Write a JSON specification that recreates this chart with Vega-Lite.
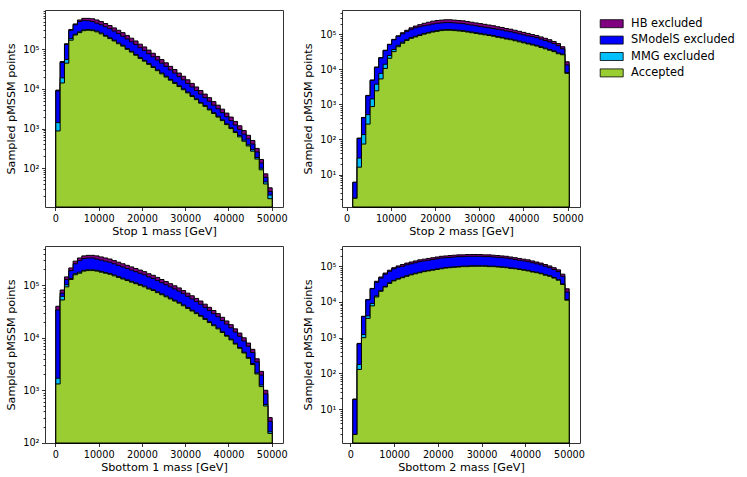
{
  "$schema": "https://vega.github.io/schema/vega-lite/v6.json",
  "datasets": {
    "stop1": [
      {"lo":100,"hi":1100,"accepted":871,"mmg":1413,"smodels":8913,"hb":9333},
      {"lo":1100,"hi":2100,"accepted":14130,"mmg":19050,"smodels":46770,"hb":48980},
      {"lo":2100,"hi":3100,"accepted":44670,"mmg":54950,"smodels":131800,"hb":138000},
      {"lo":3100,"hi":4100,"accepted":169800,"mmg":186200,"smodels":302000,"hb":316200},
      {"lo":4100,"hi":5100,"accepted":229100,"mmg":239900,"smodels":416900,"hb":436500},
      {"lo":5100,"hi":6100,"accepted":263000,"mmg":275400,"smodels":501200,"hb":549500},
      {"lo":6100,"hi":7100,"accepted":295100,"mmg":309000,"smodels":537000,"hb":602600},
      {"lo":7100,"hi":8100,"accepted":302000,"mmg":316200,"smodels":524800,"hb":602600},
      {"lo":8100,"hi":9100,"accepted":295100,"mmg":309000,"smodels":501200,"hb":588800},
      {"lo":9100,"hi":10100,"accepted":275400,"mmg":288400,"smodels":457100,"hb":549500},
      {"lo":10100,"hi":11100,"accepted":245500,"mmg":257000,"smodels":416900,"hb":501200},
      {"lo":11100,"hi":12100,"accepted":213800,"mmg":223900,"smodels":371500,"hb":446700},
      {"lo":12100,"hi":13100,"accepted":186200,"mmg":195000,"smodels":331100,"hb":398100},
      {"lo":13100,"hi":14100,"accepted":162200,"mmg":169800,"smodels":288400,"hb":346700},
      {"lo":14100,"hi":15100,"accepted":138000,"mmg":144500,"smodels":251200,"hb":302000},
      {"lo":15100,"hi":16100,"accepted":120200,"mmg":125900,"smodels":213800,"hb":263000},
      {"lo":16100,"hi":17100,"accepted":100000,"mmg":104700,"smodels":182000,"hb":223900},
      {"lo":17100,"hi":18100,"accepted":85110,"mmg":89130,"smodels":154900,"hb":190500},
      {"lo":18100,"hi":19100,"accepted":70790,"mmg":74130,"smodels":131800,"hb":162200},
      {"lo":19100,"hi":20100,"accepted":58880,"mmg":61660,"smodels":109600,"hb":134900},
      {"lo":20100,"hi":21100,"accepted":50120,"mmg":52480,"smodels":93330,"hb":114800},
      {"lo":21100,"hi":22100,"accepted":41690,"mmg":43650,"smodels":77620,"hb":95500},
      {"lo":22100,"hi":23100,"accepted":34670,"mmg":36310,"smodels":64570,"hb":79430},
      {"lo":23100,"hi":24100,"accepted":28840,"mmg":30200,"smodels":53700,"hb":66070},
      {"lo":24100,"hi":25100,"accepted":23990,"mmg":25120,"smodels":44670,"hb":54950},
      {"lo":25100,"hi":26100,"accepted":19950,"mmg":20890,"smodels":37150,"hb":45710},
      {"lo":26100,"hi":27100,"accepted":16600,"mmg":17380,"smodels":30200,"hb":37150},
      {"lo":27100,"hi":28100,"accepted":13800,"mmg":14450,"smodels":25120,"hb":30900},
      {"lo":28100,"hi":29100,"accepted":11480,"mmg":12020,"smodels":20420,"hb":25120},
      {"lo":29100,"hi":30100,"accepted":9550,"mmg":10000,"smodels":16980,"hb":20890},
      {"lo":30100,"hi":31100,"accepted":7943,"mmg":8318,"smodels":13800,"hb":16980},
      {"lo":31100,"hi":32100,"accepted":6457,"mmg":6761,"smodels":11220,"hb":13800},
      {"lo":32100,"hi":33100,"accepted":5370,"mmg":5623,"smodels":9120,"hb":11220},
      {"lo":33100,"hi":34100,"accepted":4365,"mmg":4571,"smodels":7413,"hb":9120},
      {"lo":34100,"hi":35100,"accepted":3631,"mmg":3802,"smodels":6026,"hb":7413},
      {"lo":35100,"hi":36100,"accepted":2951,"mmg":3090,"smodels":4898,"hb":6026},
      {"lo":36100,"hi":37100,"accepted":2399,"mmg":2512,"smodels":3890,"hb":4786},
      {"lo":37100,"hi":38100,"accepted":1950,"mmg":2042,"smodels":3162,"hb":3890},
      {"lo":38100,"hi":39100,"accepted":1585,"mmg":1660,"smodels":2512,"hb":3090},
      {"lo":39100,"hi":40100,"accepted":1259,"mmg":1318,"smodels":1995,"hb":2455},
      {"lo":40100,"hi":41100,"accepted":1000,"mmg":1047,"smodels":1585,"hb":1950},
      {"lo":41100,"hi":42100,"accepted":794,"mmg":832,"smodels":1230,"hb":1514},
      {"lo":42100,"hi":43100,"accepted":617,"mmg":661,"smodels":955,"hb":1175},
      {"lo":43100,"hi":44100,"accepted":479,"mmg":513,"smodels":724,"hb":891},
      {"lo":44100,"hi":45100,"accepted":363,"mmg":389,"smodels":550,"hb":676},
      {"lo":45100,"hi":46100,"accepted":269,"mmg":295,"smodels":407,"hb":501},
      {"lo":46100,"hi":47100,"accepted":170,"mmg":186,"smodels":257,"hb":316},
      {"lo":47100,"hi":48100,"accepted":91,"mmg":100,"smodels":135,"hb":166},
      {"lo":48100,"hi":49100,"accepted":40,"mmg":45,"smodels":59,"hb":72},
      {"lo":49100,"hi":50100,"accepted":17,"mmg":21,"smodels":26,"hb":32}
    ],
    "stop2": [
      {"lo":1400,"hi":2379,"accepted":2.1,"mmg":2.1,"smodels":6,"hb":6},
      {"lo":2379,"hi":3358,"accepted":16.2,"mmg":29.5,"smodels":107,"hb":110},
      {"lo":3358,"hi":4337,"accepted":74.1,"mmg":138,"smodels":417,"hb":427},
      {"lo":4337,"hi":5316,"accepted":275,"mmg":513,"smodels":1778,"hb":1820},
      {"lo":5316,"hi":6295,"accepted":871,"mmg":1445,"smodels":4898,"hb":5012},
      {"lo":6295,"hi":7274,"accepted":2455,"mmg":3802,"smodels":11480,"hb":11750},
      {"lo":7274,"hi":8253,"accepted":5370,"mmg":7762,"smodels":21380,"hb":21880},
      {"lo":8253,"hi":9232,"accepted":10720,"mmg":14130,"smodels":34670,"hb":35480},
      {"lo":9232,"hi":10211,"accepted":20890,"mmg":25120,"smodels":51290,"hb":52480},
      {"lo":10211,"hi":11190,"accepted":32360,"mmg":37150,"smodels":70790,"hb":72440},
      {"lo":11190,"hi":12169,"accepted":44670,"mmg":48980,"smodels":89130,"hb":91200},
      {"lo":12169,"hi":13148,"accepted":56230,"mmg":60260,"smodels":104700,"hb":112200},
      {"lo":13148,"hi":14127,"accepted":67610,"mmg":70790,"smodels":123000,"hb":131800},
      {"lo":14127,"hi":15106,"accepted":77620,"mmg":81280,"smodels":141300,"hb":154900},
      {"lo":15106,"hi":16085,"accepted":85110,"mmg":89130,"smodels":154900,"hb":173800},
      {"lo":16085,"hi":17064,"accepted":93330,"mmg":97720,"smodels":166000,"hb":190500},
      {"lo":17064,"hi":18043,"accepted":102300,"mmg":107200,"smodels":177800,"hb":208900},
      {"lo":18043,"hi":19022,"accepted":109600,"mmg":114800,"smodels":186200,"hb":223900},
      {"lo":19022,"hi":20001,"accepted":117500,"mmg":123000,"smodels":199500,"hb":239900},
      {"lo":20001,"hi":20980,"accepted":123000,"mmg":128800,"smodels":208900,"hb":251200},
      {"lo":20980,"hi":21959,"accepted":128800,"mmg":134900,"smodels":213800,"hb":257000},
      {"lo":21959,"hi":22938,"accepted":131800,"mmg":138000,"smodels":218800,"hb":263000},
      {"lo":22938,"hi":23917,"accepted":131800,"mmg":138000,"smodels":218800,"hb":263000},
      {"lo":23917,"hi":24896,"accepted":128800,"mmg":134900,"smodels":213800,"hb":257000},
      {"lo":24896,"hi":25875,"accepted":125900,"mmg":131800,"smodels":208900,"hb":251200},
      {"lo":25875,"hi":26854,"accepted":123000,"mmg":128800,"smodels":204200,"hb":245500},
      {"lo":26854,"hi":27833,"accepted":117500,"mmg":123000,"smodels":195000,"hb":234400},
      {"lo":27833,"hi":28812,"accepted":112200,"mmg":117500,"smodels":186200,"hb":223900},
      {"lo":28812,"hi":29791,"accepted":107200,"mmg":112200,"smodels":177800,"hb":213800},
      {"lo":29791,"hi":30770,"accepted":102300,"mmg":107200,"smodels":169800,"hb":204200},
      {"lo":30770,"hi":31749,"accepted":97720,"mmg":102300,"smodels":162200,"hb":195000},
      {"lo":31749,"hi":32728,"accepted":93330,"mmg":97720,"smodels":154900,"hb":186200},
      {"lo":32728,"hi":33707,"accepted":89130,"mmg":93330,"smodels":147900,"hb":177800},
      {"lo":33707,"hi":34686,"accepted":83180,"mmg":87100,"smodels":141300,"hb":166000},
      {"lo":34686,"hi":35665,"accepted":79430,"mmg":83180,"smodels":134900,"hb":158500},
      {"lo":35665,"hi":36644,"accepted":74130,"mmg":77620,"smodels":125900,"hb":147900},
      {"lo":36644,"hi":37623,"accepted":70790,"mmg":74130,"smodels":120200,"hb":141300},
      {"lo":37623,"hi":38602,"accepted":66070,"mmg":69180,"smodels":112200,"hb":131800},
      {"lo":38602,"hi":39581,"accepted":61660,"mmg":64570,"smodels":104700,"hb":123000},
      {"lo":39581,"hi":40560,"accepted":57540,"mmg":60260,"smodels":97720,"hb":114800},
      {"lo":40560,"hi":41539,"accepted":53700,"mmg":56230,"smodels":91200,"hb":107200},
      {"lo":41539,"hi":42518,"accepted":50120,"mmg":52480,"smodels":87100,"hb":100000},
      {"lo":42518,"hi":43497,"accepted":46770,"mmg":48980,"smodels":81280,"hb":93330},
      {"lo":43497,"hi":44476,"accepted":42660,"mmg":44670,"smodels":74130,"hb":85110},
      {"lo":44476,"hi":45455,"accepted":38900,"mmg":40740,"smodels":67610,"hb":77620},
      {"lo":45455,"hi":46434,"accepted":35480,"mmg":37150,"smodels":61660,"hb":70790},
      {"lo":46434,"hi":47413,"accepted":32360,"mmg":33880,"smodels":54950,"hb":63100},
      {"lo":47413,"hi":48392,"accepted":28180,"mmg":29510,"smodels":47860,"hb":54950},
      {"lo":48392,"hi":49371,"accepted":26300,"mmg":27540,"smodels":38900,"hb":44670},
      {"lo":49371,"hi":50350,"accepted":7762,"mmg":8128,"smodels":13490,"hb":16600}
    ],
    "sbottom1": [
      {"lo":100,"hi":1100,"accepted":1318,"mmg":1698,"smodels":33880,"hb":39810},
      {"lo":1100,"hi":2100,"accepted":52480,"mmg":61660,"smodels":70790,"hb":81280},
      {"lo":2100,"hi":3100,"accepted":93330,"mmg":102300,"smodels":128800,"hb":144500},
      {"lo":3100,"hi":4100,"accepted":128800,"mmg":134900,"smodels":190500,"hb":213800},
      {"lo":4100,"hi":5100,"accepted":158500,"mmg":166000,"smodels":257000,"hb":288400},
      {"lo":5100,"hi":6100,"accepted":169800,"mmg":177800,"smodels":295100,"hb":331100},
      {"lo":6100,"hi":7100,"accepted":186200,"mmg":192800,"smodels":323600,"hb":363100},
      {"lo":7100,"hi":8100,"accepted":190500,"mmg":197200,"smodels":331100,"hb":371500},
      {"lo":8100,"hi":9100,"accepted":190500,"mmg":197200,"smodels":331100,"hb":371500},
      {"lo":9100,"hi":10100,"accepted":186200,"mmg":192800,"smodels":316200,"hb":363100},
      {"lo":10100,"hi":11100,"accepted":177800,"mmg":184100,"smodels":302000,"hb":346700},
      {"lo":11100,"hi":12100,"accepted":169800,"mmg":175800,"smodels":288400,"hb":331100},
      {"lo":12100,"hi":13100,"accepted":162200,"mmg":167900,"smodels":275400,"hb":316200},
      {"lo":13100,"hi":14100,"accepted":151400,"mmg":156700,"smodels":257000,"hb":295100},
      {"lo":14100,"hi":15100,"accepted":141300,"mmg":146200,"smodels":239900,"hb":275400},
      {"lo":15100,"hi":16100,"accepted":131800,"mmg":136500,"smodels":223900,"hb":257000},
      {"lo":16100,"hi":17100,"accepted":123000,"mmg":127400,"smodels":208900,"hb":239900},
      {"lo":17100,"hi":18100,"accepted":114800,"mmg":118900,"smodels":195000,"hb":223900},
      {"lo":18100,"hi":19100,"accepted":107200,"mmg":110900,"smodels":182000,"hb":208900},
      {"lo":19100,"hi":20100,"accepted":100000,"mmg":103500,"smodels":169800,"hb":195000},
      {"lo":20100,"hi":21100,"accepted":93330,"mmg":96610,"smodels":158500,"hb":182000},
      {"lo":21100,"hi":22100,"accepted":85110,"mmg":88100,"smodels":144500,"hb":166000},
      {"lo":22100,"hi":23100,"accepted":79430,"mmg":82220,"smodels":134900,"hb":154900},
      {"lo":23100,"hi":24100,"accepted":72440,"mmg":74990,"smodels":123000,"hb":141300},
      {"lo":24100,"hi":25100,"accepted":66070,"mmg":68390,"smodels":112200,"hb":128800},
      {"lo":25100,"hi":26100,"accepted":60260,"mmg":62370,"smodels":102300,"hb":117500},
      {"lo":26100,"hi":27100,"accepted":54950,"mmg":56880,"smodels":93330,"hb":107200},
      {"lo":27100,"hi":28100,"accepted":50120,"mmg":51880,"smodels":85110,"hb":97720},
      {"lo":28100,"hi":29100,"accepted":45710,"mmg":47320,"smodels":77620,"hb":89130},
      {"lo":29100,"hi":30100,"accepted":40740,"mmg":42170,"smodels":69180,"hb":79430},
      {"lo":30100,"hi":31100,"accepted":36310,"mmg":37580,"smodels":61660,"hb":70790},
      {"lo":31100,"hi":32100,"accepted":32360,"mmg":33500,"smodels":54950,"hb":63100},
      {"lo":32100,"hi":33100,"accepted":28840,"mmg":29850,"smodels":48980,"hb":56230},
      {"lo":33100,"hi":34100,"accepted":25700,"mmg":26610,"smodels":43650,"hb":50120},
      {"lo":34100,"hi":35100,"accepted":22390,"mmg":23170,"smodels":38020,"hb":43650},
      {"lo":35100,"hi":36100,"accepted":19500,"mmg":20180,"smodels":33110,"hb":38020},
      {"lo":36100,"hi":37100,"accepted":16980,"mmg":17580,"smodels":28840,"hb":33110},
      {"lo":37100,"hi":38100,"accepted":14790,"mmg":15310,"smodels":25120,"hb":28840},
      {"lo":38100,"hi":39100,"accepted":12590,"mmg":13030,"smodels":21380,"hb":24550},
      {"lo":39100,"hi":40100,"accepted":10720,"mmg":11090,"smodels":18200,"hb":20890},
      {"lo":40100,"hi":41100,"accepted":9120,"mmg":9441,"smodels":15490,"hb":17780},
      {"lo":41100,"hi":42100,"accepted":7586,"mmg":7852,"smodels":12880,"hb":14790},
      {"lo":42100,"hi":43100,"accepted":6310,"mmg":6531,"smodels":10720,"hb":12300},
      {"lo":43100,"hi":44100,"accepted":5129,"mmg":5309,"smodels":8710,"hb":10000},
      {"lo":44100,"hi":45100,"accepted":4074,"mmg":4217,"smodels":6918,"hb":7943},
      {"lo":45100,"hi":46100,"accepted":3090,"mmg":3236,"smodels":5248,"hb":6026},
      {"lo":46100,"hi":47100,"accepted":2042,"mmg":2138,"smodels":3467,"hb":3981},
      {"lo":47100,"hi":48100,"accepted":1175,"mmg":1259,"smodels":1950,"hb":2291},
      {"lo":48100,"hi":49100,"accepted":501,"mmg":537,"smodels":851,"hb":1000},
      {"lo":49100,"hi":50100,"accepted":151,"mmg":162,"smodels":257,"hb":302}
    ],
    "sbottom2": [
      {"lo":550,"hi":1540,"accepted":1.95,"mmg":1.95,"smodels":18.6,"hb":19.1},
      {"lo":1540,"hi":2530,"accepted":129,"mmg":178,"smodels":676,"hb":692},
      {"lo":2530,"hi":3520,"accepted":1000,"mmg":1230,"smodels":3890,"hb":3981},
      {"lo":3520,"hi":4510,"accepted":3467,"mmg":4074,"smodels":11480,"hb":11750},
      {"lo":4510,"hi":5500,"accepted":7762,"mmg":9120,"smodels":23440,"hb":23990},
      {"lo":5500,"hi":6490,"accepted":13800,"mmg":14790,"smodels":35480,"hb":38020},
      {"lo":6490,"hi":7480,"accepted":19950,"mmg":20650,"smodels":46770,"hb":50120},
      {"lo":7480,"hi":8470,"accepted":26300,"mmg":27230,"smodels":60260,"hb":64570},
      {"lo":8470,"hi":9460,"accepted":33110,"mmg":34280,"smodels":72440,"hb":77620},
      {"lo":9460,"hi":10450,"accepted":38900,"mmg":40270,"smodels":85110,"hb":91200},
      {"lo":10450,"hi":11440,"accepted":43650,"mmg":45190,"smodels":95500,"hb":102300},
      {"lo":11440,"hi":12430,"accepted":47860,"mmg":49550,"smodels":100000,"hb":112200},
      {"lo":12430,"hi":13420,"accepted":52480,"mmg":54330,"smodels":109600,"hb":123000},
      {"lo":13420,"hi":14410,"accepted":57540,"mmg":59570,"smodels":117500,"hb":131800},
      {"lo":14410,"hi":15400,"accepted":61660,"mmg":63830,"smodels":125900,"hb":141300},
      {"lo":15400,"hi":16390,"accepted":66070,"mmg":68390,"smodels":134900,"hb":151400},
      {"lo":16390,"hi":17380,"accepted":70790,"mmg":73280,"smodels":141300,"hb":158500},
      {"lo":17380,"hi":18370,"accepted":74130,"mmg":76740,"smodels":147900,"hb":166000},
      {"lo":18370,"hi":19360,"accepted":77620,"mmg":80350,"smodels":154900,"hb":173800},
      {"lo":19360,"hi":20350,"accepted":81280,"mmg":84140,"smodels":162200,"hb":182000},
      {"lo":20350,"hi":21340,"accepted":85110,"mmg":88100,"smodels":169800,"hb":190500},
      {"lo":21340,"hi":22330,"accepted":89130,"mmg":92260,"smodels":173800,"hb":195000},
      {"lo":22330,"hi":23320,"accepted":91200,"mmg":94410,"smodels":177800,"hb":199500},
      {"lo":23320,"hi":24310,"accepted":93330,"mmg":96610,"smodels":182000,"hb":204200},
      {"lo":24310,"hi":25300,"accepted":95500,"mmg":98860,"smodels":186200,"hb":208900},
      {"lo":25300,"hi":26290,"accepted":97720,"mmg":101200,"smodels":186200,"hb":208900},
      {"lo":26290,"hi":27280,"accepted":97720,"mmg":101200,"smodels":190500,"hb":213800},
      {"lo":27280,"hi":28270,"accepted":100000,"mmg":103500,"smodels":190500,"hb":213800},
      {"lo":28270,"hi":29260,"accepted":100000,"mmg":103500,"smodels":190500,"hb":213800},
      {"lo":29260,"hi":30250,"accepted":100000,"mmg":103500,"smodels":190500,"hb":213800},
      {"lo":30250,"hi":31240,"accepted":100000,"mmg":103500,"smodels":186200,"hb":208900},
      {"lo":31240,"hi":32230,"accepted":97720,"mmg":101200,"smodels":186200,"hb":208900},
      {"lo":32230,"hi":33220,"accepted":97720,"mmg":101200,"smodels":182000,"hb":204200},
      {"lo":33220,"hi":34210,"accepted":95500,"mmg":98860,"smodels":177800,"hb":199500},
      {"lo":34210,"hi":35200,"accepted":93330,"mmg":96610,"smodels":173800,"hb":195000},
      {"lo":35200,"hi":36190,"accepted":91200,"mmg":94410,"smodels":169800,"hb":190500},
      {"lo":36190,"hi":37180,"accepted":87100,"mmg":90160,"smodels":162200,"hb":182000},
      {"lo":37180,"hi":38170,"accepted":85110,"mmg":88100,"smodels":154900,"hb":173800},
      {"lo":38170,"hi":39160,"accepted":81280,"mmg":84140,"smodels":147900,"hb":166000},
      {"lo":39160,"hi":40150,"accepted":77620,"mmg":80350,"smodels":141300,"hb":158500},
      {"lo":40150,"hi":41140,"accepted":74130,"mmg":76740,"smodels":134900,"hb":151400},
      {"lo":41140,"hi":42130,"accepted":69180,"mmg":71620,"smodels":125900,"hb":141300},
      {"lo":42130,"hi":43120,"accepted":66070,"mmg":68390,"smodels":117500,"hb":131800},
      {"lo":43120,"hi":44110,"accepted":61660,"mmg":63830,"smodels":109600,"hb":123000},
      {"lo":44110,"hi":45100,"accepted":56230,"mmg":58210,"smodels":100000,"hb":112200},
      {"lo":45100,"hi":46090,"accepted":52480,"mmg":54330,"smodels":91200,"hb":102300},
      {"lo":46090,"hi":47080,"accepted":46770,"mmg":48420,"smodels":81280,"hb":91200},
      {"lo":47080,"hi":48070,"accepted":40740,"mmg":42170,"smodels":70790,"hb":79430},
      {"lo":48070,"hi":49060,"accepted":30900,"mmg":31990,"smodels":52480,"hb":60260},
      {"lo":49060,"hi":50050,"accepted":11220,"mmg":11750,"smodels":19050,"hb":23440}
    ]
  },
  "columns": 2,
  "spacing": {"row": 39, "column": 59},
  "bounds": "flush",
  "resolve": {"scale": {"x": "independent", "y": "independent", "color": "shared"}},
  "concat": [
    {
      "width": 238,
      "height": 197,
      "data": {"name": "stop1"},
      "transform": [
        {"fold": ["hb", "smodels", "mmg", "accepted"], "as": ["cat", "count"]},
        {"fold": ["lo", "hi"], "as": ["side", "edge"]}
      ],
      "encoding": {
        "x": {"field": "edge", "type": "quantitative", "scale": {"domain": [-2400, 52600], "nice": false, "zero": false},
              "axis": {"title": "Stop 1 mass [GeV]", "values": [0, 10000, 20000, 30000, 40000, 50000], "format": "d"}},
        "y": {"field": "count", "type": "quantitative", "stack": null,
              "scale": {"type": "log", "domain": [10.5, 980000], "nice": false},
              "axis": {"title": "Sampled pMSSM points",
                       "values": [20,30,40,50,60,70,80,90,100,200,300,400,500,600,700,800,900,1000,2000,3000,4000,5000,6000,7000,8000,9000,10000,20000,30000,40000,50000,60000,70000,80000,90000,100000,200000,300000,400000,500000,600000,700000,800000,900000]}},
        "color": {"field": "cat", "type": "nominal",
                  "scale": {"domain": ["hb", "smodels", "mmg", "accepted"], "range": ["purple", "blue", "deepskyblue", "yellowgreen"]},
                  "legend": {"title": null, "labelExpr": "{'hb': 'HB excluded', 'smodels': 'SModelS excluded', 'mmg': 'MMG excluded', 'accepted': 'Accepted'}[datum.label]"}},
        "order": [{"field": "lo", "type": "quantitative"}, {"field": "edge", "type": "quantitative"}]
      },
      "layer": [
        {"transform": [{"filter": "datum.cat === 'hb'"}], "mark": {"type": "area", "stroke": "black", "strokeWidth": 1, "opacity": 1}},
        {"transform": [{"filter": "datum.cat === 'smodels'"}], "mark": {"type": "area", "stroke": "black", "strokeWidth": 1, "opacity": 1}},
        {"transform": [{"filter": "datum.cat === 'mmg'"}], "mark": {"type": "area", "stroke": "black", "strokeWidth": 1, "opacity": 1}},
        {"transform": [{"filter": "datum.cat === 'accepted'"}], "mark": {"type": "area", "stroke": "black", "strokeWidth": 1, "opacity": 1}}
      ]
    },
    {
      "width": 238,
      "height": 197,
      "data": {"name": "stop2"},
      "transform": [
        {"fold": ["hb", "smodels", "mmg", "accepted"], "as": ["cat", "count"]},
        {"fold": ["lo", "hi"], "as": ["side", "edge"]}
      ],
      "encoding": {
        "x": {"field": "edge", "type": "quantitative", "scale": {"domain": [-1048, 52798], "nice": false, "zero": false},
              "axis": {"title": "Stop 2 mass [GeV]", "values": [0, 10000, 20000, 30000, 40000, 50000], "format": "d"}},
        "y": {"field": "count", "type": "quantitative", "stack": null,
              "scale": {"type": "log", "domain": [1.18, 500000], "nice": false},
              "axis": {"title": "Sampled pMSSM points",
                       "values": [2,3,4,5,6,7,8,9,10,20,30,40,50,60,70,80,90,100,200,300,400,500,600,700,800,900,1000,2000,3000,4000,5000,6000,7000,8000,9000,10000,20000,30000,40000,50000,60000,70000,80000,90000,100000,200000,300000,400000]}},
        "color": {"field": "cat", "type": "nominal",
                  "scale": {"domain": ["hb", "smodels", "mmg", "accepted"], "range": ["purple", "blue", "deepskyblue", "yellowgreen"]},
                  "legend": {"title": null, "labelExpr": "{'hb': 'HB excluded', 'smodels': 'SModelS excluded', 'mmg': 'MMG excluded', 'accepted': 'Accepted'}[datum.label]"}},
        "order": [{"field": "lo", "type": "quantitative"}, {"field": "edge", "type": "quantitative"}]
      },
      "layer": [
        {"transform": [{"filter": "datum.cat === 'hb'"}], "mark": {"type": "area", "stroke": "black", "strokeWidth": 1, "opacity": 1}},
        {"transform": [{"filter": "datum.cat === 'smodels'"}], "mark": {"type": "area", "stroke": "black", "strokeWidth": 1, "opacity": 1}},
        {"transform": [{"filter": "datum.cat === 'mmg'"}], "mark": {"type": "area", "stroke": "black", "strokeWidth": 1, "opacity": 1}},
        {"transform": [{"filter": "datum.cat === 'accepted'"}], "mark": {"type": "area", "stroke": "black", "strokeWidth": 1, "opacity": 1}}
      ]
    },
    {
      "width": 238,
      "height": 197,
      "data": {"name": "sbottom1"},
      "transform": [
        {"fold": ["hb", "smodels", "mmg", "accepted"], "as": ["cat", "count"]},
        {"fold": ["lo", "hi"], "as": ["side", "edge"]}
      ],
      "encoding": {
        "x": {"field": "edge", "type": "quantitative", "scale": {"domain": [-2400, 52600], "nice": false, "zero": false},
              "axis": {"title": "Sbottom 1 mass [GeV]", "values": [0, 10000, 20000, 30000, 40000, 50000], "format": "d"}},
        "y": {"field": "count", "type": "quantitative", "stack": null,
              "scale": {"type": "log", "domain": [99, 560000], "nice": false},
              "axis": {"title": "Sampled pMSSM points",
                       "values": [100,200,300,400,500,600,700,800,900,1000,2000,3000,4000,5000,6000,7000,8000,9000,10000,20000,30000,40000,50000,60000,70000,80000,90000,100000,200000,300000,400000,500000]}},
        "color": {"field": "cat", "type": "nominal",
                  "scale": {"domain": ["hb", "smodels", "mmg", "accepted"], "range": ["purple", "blue", "deepskyblue", "yellowgreen"]},
                  "legend": {"title": null, "labelExpr": "{'hb': 'HB excluded', 'smodels': 'SModelS excluded', 'mmg': 'MMG excluded', 'accepted': 'Accepted'}[datum.label]"}},
        "order": [{"field": "lo", "type": "quantitative"}, {"field": "edge", "type": "quantitative"}]
      },
      "layer": [
        {"transform": [{"filter": "datum.cat === 'hb'"}], "mark": {"type": "area", "stroke": "black", "strokeWidth": 1, "opacity": 1}},
        {"transform": [{"filter": "datum.cat === 'smodels'"}], "mark": {"type": "area", "stroke": "black", "strokeWidth": 1, "opacity": 1}},
        {"transform": [{"filter": "datum.cat === 'mmg'"}], "mark": {"type": "area", "stroke": "black", "strokeWidth": 1, "opacity": 1}},
        {"transform": [{"filter": "datum.cat === 'accepted'"}], "mark": {"type": "area", "stroke": "black", "strokeWidth": 1, "opacity": 1}}
      ]
    },
    {
      "width": 238,
      "height": 197,
      "data": {"name": "sbottom2"},
      "transform": [
        {"fold": ["hb", "smodels", "mmg", "accepted"], "as": ["cat", "count"]},
        {"fold": ["lo", "hi"], "as": ["side", "edge"]}
      ],
      "encoding": {
        "x": {"field": "edge", "type": "quantitative", "scale": {"domain": [-1925, 52525], "nice": false, "zero": false},
              "axis": {"title": "Sbottom 2 mass [GeV]", "values": [0, 10000, 20000, 30000, 40000, 50000], "format": "d"}},
        "y": {"field": "count", "type": "quantitative", "stack": null,
              "scale": {"type": "log", "domain": [1.12, 370000], "nice": false},
              "axis": {"title": "Sampled pMSSM points",
                       "values": [2,3,4,5,6,7,8,9,10,20,30,40,50,60,70,80,90,100,200,300,400,500,600,700,800,900,1000,2000,3000,4000,5000,6000,7000,8000,9000,10000,20000,30000,40000,50000,60000,70000,80000,90000,100000,200000,300000]}},
        "color": {"field": "cat", "type": "nominal",
                  "scale": {"domain": ["hb", "smodels", "mmg", "accepted"], "range": ["purple", "blue", "deepskyblue", "yellowgreen"]},
                  "legend": {"title": null, "labelExpr": "{'hb': 'HB excluded', 'smodels': 'SModelS excluded', 'mmg': 'MMG excluded', 'accepted': 'Accepted'}[datum.label]"}},
        "order": [{"field": "lo", "type": "quantitative"}, {"field": "edge", "type": "quantitative"}]
      },
      "layer": [
        {"transform": [{"filter": "datum.cat === 'hb'"}], "mark": {"type": "area", "stroke": "black", "strokeWidth": 1, "opacity": 1}},
        {"transform": [{"filter": "datum.cat === 'smodels'"}], "mark": {"type": "area", "stroke": "black", "strokeWidth": 1, "opacity": 1}},
        {"transform": [{"filter": "datum.cat === 'mmg'"}], "mark": {"type": "area", "stroke": "black", "strokeWidth": 1, "opacity": 1}},
        {"transform": [{"filter": "datum.cat === 'accepted'"}], "mark": {"type": "area", "stroke": "black", "strokeWidth": 1, "opacity": 1}}
      ]
    }
  ],
  "config": {
    "font": "DejaVu Sans",
    "view": {"stroke": "#333333", "strokeWidth": 1},
    "axis": {
      "domain": false,
      "grid": false,
      "labelColor": "black",
      "titleColor": "black",
      "tickColor": "black",
      "tickWidth": 0.8,
      "labelFont": "DejaVu Sans",
      "titleFont": "DejaVu Sans",
      "labelFontSize": 9.7,
      "titleFontSize": 11.2,
      "titleFontWeight": "normal",
      "labelPadding": 2.5
    },
    "axisX": {"tickSize": 3.5, "titlePadding": 3, "labelFlush": false},
    "axisY": {
      "titlePadding": 6,
      "labelExpr": "abs(log(datum.value) / LN10 - round(log(datum.value) / LN10)) < 0.000001 ? '10' + ['⁰', '¹', '²', '³', '⁴', '⁵', '⁶'][round(log(datum.value) / LN10)] : ''",
      "tickSize": {"condition": {"test": "abs(log(datum.value) / LN10 - round(log(datum.value) / LN10)) < 0.000001", "value": 3.5}, "value": 2},
      "labelFlush": false,
      "labelOverlap": false
    },
    "legend": {
      "orient": "right",
      "offset": 12.5,
      "padding": 8,
      "labelFont": "DejaVu Sans",
      "labelFontSize": 11.4,
      "labelColor": "black",
      "labelOffset": 13.7,
      "rowPadding": 3.4,
      "symbolType": "M-2.3,-0.8H2.3V0.8H-2.3Z",
      "symbolSize": 100,
      "symbolStrokeColor": "black",
      "symbolStrokeWidth": 0.8,
      "symbolOpacity": 1
    }
  }
}
